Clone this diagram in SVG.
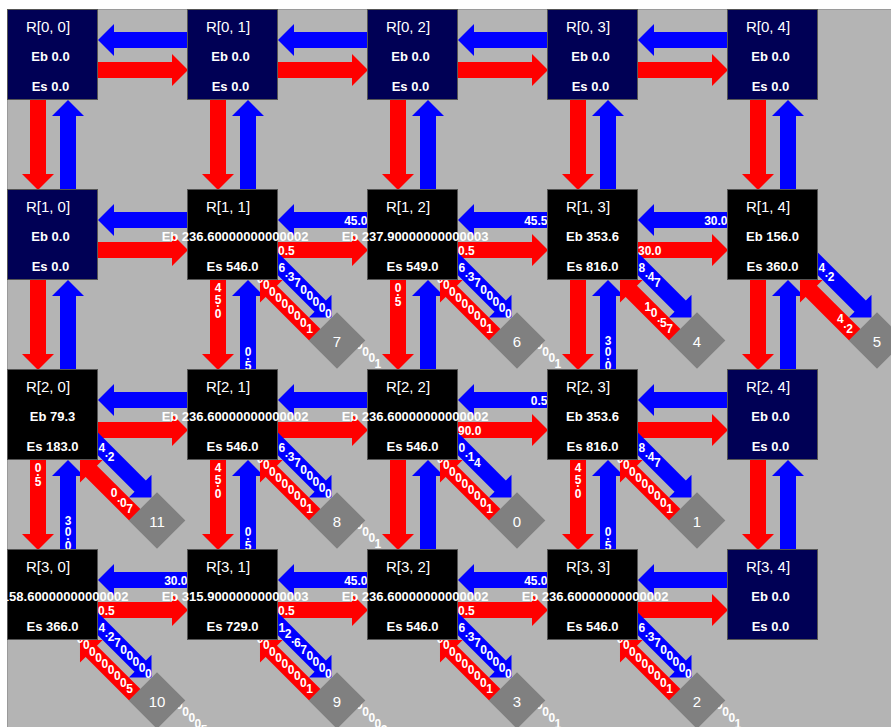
<svg xmlns="http://www.w3.org/2000/svg" width="891" height="727" viewBox="0 0 891 727">
<style>
.bgw{fill:#fff}
.bg{fill:#b4b4b4}
.nv{fill:#000055;stroke:#555;stroke-width:1}
.bk{fill:#000;stroke:#555;stroke-width:1}
.r{fill:#f00}
.b{fill:#00f}
.dm{fill:#808080}
text{font-family:"Liberation Sans",Arial,sans-serif;fill:#fff}
.t{font-size:15px;text-anchor:middle}
.e{font-size:13px;font-weight:bold;text-anchor:middle}
.l{font-size:12px;font-weight:bold}
.le{font-size:12px;font-weight:bold;text-anchor:end}
.lm{font-size:12px;font-weight:bold;text-anchor:middle}
.dn{font-size:15px;text-anchor:middle}
</style>
<defs>
<path id="h" d="M0,-8H74V-16L90,0L74,16V8H0Z"/>
<path id="db" d="M0,-8H73.8V-16L89.8,0L73.8,16V8H0Z"/>
<path id="dr" d="M0,-8H61.8V-16L77.8,0L61.8,16V8H0Z"/>
<polygon id="dm" points="0,-28.3 28.3,0 0,28.3 -28.3,0"/>
</defs>
<rect class="bgw" x="0" y="0" width="891" height="727"/>
<rect class="bg" x="7" y="9" width="884" height="718"/>
<path d="M7.5,727V9.5H891" fill="none" stroke="#9a9a9a"/>
<g id="connectors">
<g id="horizontal">
<use href="#h" class="r" transform="translate(98,70)"/><use href="#h" class="r" transform="translate(278,70)"/><use href="#h" class="r" transform="translate(458,70)"/><use href="#h" class="r" transform="translate(638,70)"/>
<use href="#h" class="b" transform="translate(188,40) rotate(180)"/><use href="#h" class="b" transform="translate(368,40) rotate(180)"/><use href="#h" class="b" transform="translate(548,40) rotate(180)"/><use href="#h" class="b" transform="translate(728,40) rotate(180)"/>
<use href="#h" class="r" transform="translate(98,250)"/><use href="#h" class="r" transform="translate(278,250)"/><use href="#h" class="r" transform="translate(458,250)"/><use href="#h" class="r" transform="translate(638,250)"/>
<use href="#h" class="b" transform="translate(188,220) rotate(180)"/><use href="#h" class="b" transform="translate(368,220) rotate(180)"/><use href="#h" class="b" transform="translate(548,220) rotate(180)"/><use href="#h" class="b" transform="translate(728,220) rotate(180)"/>
<use href="#h" class="r" transform="translate(98,430)"/><use href="#h" class="r" transform="translate(278,430)"/><use href="#h" class="r" transform="translate(458,430)"/><use href="#h" class="r" transform="translate(638,430)"/>
<use href="#h" class="b" transform="translate(188,400) rotate(180)"/><use href="#h" class="b" transform="translate(368,400) rotate(180)"/><use href="#h" class="b" transform="translate(548,400) rotate(180)"/><use href="#h" class="b" transform="translate(728,400) rotate(180)"/>
<use href="#h" class="r" transform="translate(98,610)"/><use href="#h" class="r" transform="translate(278,610)"/><use href="#h" class="r" transform="translate(458,610)"/><use href="#h" class="r" transform="translate(638,610)"/>
<use href="#h" class="b" transform="translate(188,580) rotate(180)"/><use href="#h" class="b" transform="translate(368,580) rotate(180)"/><use href="#h" class="b" transform="translate(548,580) rotate(180)"/><use href="#h" class="b" transform="translate(728,580) rotate(180)"/>
</g>
<g id="vertical">
<use href="#h" class="r" transform="translate(38,100) rotate(90)"/><use href="#h" class="r" transform="translate(218,100) rotate(90)"/><use href="#h" class="r" transform="translate(398,100) rotate(90)"/><use href="#h" class="r" transform="translate(578,100) rotate(90)"/><use href="#h" class="r" transform="translate(758,100) rotate(90)"/>
<use href="#h" class="b" transform="translate(68,190) rotate(-90)"/><use href="#h" class="b" transform="translate(248,190) rotate(-90)"/><use href="#h" class="b" transform="translate(428,190) rotate(-90)"/><use href="#h" class="b" transform="translate(608,190) rotate(-90)"/><use href="#h" class="b" transform="translate(788,190) rotate(-90)"/>
<use href="#h" class="r" transform="translate(38,280) rotate(90)"/><use href="#h" class="r" transform="translate(218,280) rotate(90)"/><use href="#h" class="r" transform="translate(398,280) rotate(90)"/><use href="#h" class="r" transform="translate(578,280) rotate(90)"/><use href="#h" class="r" transform="translate(758,280) rotate(90)"/>
<use href="#h" class="b" transform="translate(68,370) rotate(-90)"/><use href="#h" class="b" transform="translate(248,370) rotate(-90)"/><use href="#h" class="b" transform="translate(428,370) rotate(-90)"/><use href="#h" class="b" transform="translate(608,370) rotate(-90)"/><use href="#h" class="b" transform="translate(788,370) rotate(-90)"/>
<use href="#h" class="r" transform="translate(38,460) rotate(90)"/><use href="#h" class="r" transform="translate(218,460) rotate(90)"/><use href="#h" class="r" transform="translate(398,460) rotate(90)"/><use href="#h" class="r" transform="translate(578,460) rotate(90)"/><use href="#h" class="r" transform="translate(758,460) rotate(90)"/>
<use href="#h" class="b" transform="translate(68,550) rotate(-90)"/><use href="#h" class="b" transform="translate(248,550) rotate(-90)"/><use href="#h" class="b" transform="translate(428,550) rotate(-90)"/><use href="#h" class="b" transform="translate(608,550) rotate(-90)"/><use href="#h" class="b" transform="translate(788,550) rotate(-90)"/>
</g>
<g id="diagonal">
<use href="#db" class="b" transform="translate(268,254) rotate(45)"/><use href="#dr" class="r" transform="translate(315,335) rotate(225)"/>
<use href="#db" class="b" transform="translate(448,254) rotate(45)"/><use href="#dr" class="r" transform="translate(495,335) rotate(225)"/>
<use href="#db" class="b" transform="translate(628,254) rotate(45)"/><use href="#dr" class="r" transform="translate(675,335) rotate(225)"/>
<use href="#db" class="b" transform="translate(808,254) rotate(45)"/><use href="#dr" class="r" transform="translate(855,335) rotate(225)"/>
<use href="#db" class="b" transform="translate(88,434) rotate(45)"/><use href="#dr" class="r" transform="translate(135,515) rotate(225)"/>
<use href="#db" class="b" transform="translate(268,434) rotate(45)"/><use href="#dr" class="r" transform="translate(315,515) rotate(225)"/>
<use href="#db" class="b" transform="translate(448,434) rotate(45)"/><use href="#dr" class="r" transform="translate(495,515) rotate(225)"/>
<use href="#db" class="b" transform="translate(628,434) rotate(45)"/><use href="#dr" class="r" transform="translate(675,515) rotate(225)"/>
<use href="#db" class="b" transform="translate(88,614) rotate(45)"/><use href="#dr" class="r" transform="translate(135,695) rotate(225)"/>
<use href="#db" class="b" transform="translate(268,614) rotate(45)"/><use href="#dr" class="r" transform="translate(315,695) rotate(225)"/>
<use href="#db" class="b" transform="translate(448,614) rotate(45)"/><use href="#dr" class="r" transform="translate(495,695) rotate(225)"/>
<use href="#db" class="b" transform="translate(628,614) rotate(45)"/><use href="#dr" class="r" transform="translate(675,695) rotate(225)"/>
</g>
<g id="labels">
<text class="le" x="367.5" y="225">45.0</text>
<text class="le" x="547.5" y="225">45.5</text>
<text class="le" x="727.5" y="225">30.0</text>
<text class="le" x="547.5" y="405">0.5</text>
<text class="le" x="187.5" y="585">30.0</text>
<text class="le" x="367.5" y="585">45.0</text>
<text class="le" x="547.5" y="585">45.0</text>
<text class="l" x="278" y="255">0.5</text>
<text class="l" x="458" y="255">0.5</text>
<text class="l" x="638" y="255">30.0</text>
<text class="l" x="458" y="435">90.0</text>
<text class="l" x="98" y="615">0.5</text>
<text class="l" x="278" y="615">0.5</text>
<text class="l" x="458" y="615">0.5</text>
<text class="lm" x="218 218 218 218" y="292 303.5 307 317.5">45.0</text>
<text class="lm" x="398 398 398" y="292 295.5 305.5">0.5</text>
<text class="lm" x="38 38 38" y="472 475.5 485.5">0.5</text>
<text class="lm" x="218 218 218 218" y="472 483.5 487 497.5">45.0</text>
<text class="lm" x="578 578 578 578" y="472 483.5 487 497.5">45.0</text>
<text class="lm" x="248 248 248" y="356 359.5 369.5">0.5</text>
<text class="lm" x="608 608 608 608" y="344.5 356 359.5 369.5">30.0</text>
<text class="lm" x="68 68 68 68" y="524.5 536 539.5 549.5">30.0</text>
<text class="lm" x="248 248 248" y="536 539.5 549.5">0.5</text>
<text class="lm" x="608 608 608" y="536 539.5 549.5">0.5</text>
<text class="l" transform="translate(278,280)" x="0.5 6.7 9.8 16 22.2 28.4 34.6 40.8 47 53.2 59.4 65.6 71.8 78 84.2 90.4 96.6" y="-8.1 -3.45 1.2 7.4 13.6 19.8 26 32.2 38.4 44.6 50.8 57 63.2 69.4 75.6 81.8 88">6.370000000000001</text>
<text class="l" transform="translate(458,280)" x="0.5 6.7 9.8 16 22.2 28.4 34.6 40.8 47 53.2 59.4 65.6 71.8 78 84.2 90.4 96.6" y="-8.1 -3.45 1.2 7.4 13.6 19.8 26 32.2 38.4 44.6 50.8 57 63.2 69.4 75.6 81.8 88">6.370000000000001</text>
<text class="l" transform="translate(638,280)" x="0.5 6.7 9.8 16" y="-8.1 -3.45 1.2 7.4">8.47</text>
<text class="l" transform="translate(818,280)" x="0.5 6.7 9.8" y="-8.1 -3.45 1.2">4.2</text>
<text class="l" transform="translate(98,460)" x="0.5 6.7 9.8" y="-8.1 -3.45 1.2">4.2</text>
<text class="l" transform="translate(278,460)" x="0.5 6.7 9.8 16 22.2 28.4 34.6 40.8 47 53.2 59.4 65.6 71.8 78 84.2 90.4 96.6" y="-8.1 -3.45 1.2 7.4 13.6 19.8 26 32.2 38.4 44.6 50.8 57 63.2 69.4 75.6 81.8 88">6.370000000000001</text>
<text class="l" transform="translate(458,460)" x="0.5 6.7 9.8 16" y="-8.1 -3.45 1.2 7.4">0.14</text>
<text class="l" transform="translate(638,460)" x="0.5 6.7 9.8 16" y="-8.1 -3.45 1.2 7.4">8.47</text>
<text class="l" transform="translate(98,640)" x="0.5 6.7 9.8 16 22.2 28.4 34.6 40.8 47 53.2 59.4 65.6 71.8 78 84.2 90.4 96.6 102.8" y="-8.1 -3.45 1.2 7.4 13.6 19.8 26 32.2 38.4 44.6 50.8 57 63.2 69.4 75.6 81.8 88 94.2">4.2700000000000005</text>
<text class="l" transform="translate(278,640)" x="0.5 6.7 12.9 16 22.2 28.4 34.6 40.8 47 53.2 59.4 65.6 71.8 78 84.2 90.4 96.6 102.8" y="-8.1 -1.9 2.75 7.4 13.6 19.8 26 32.2 38.4 44.6 50.8 57 63.2 69.4 75.6 81.8 88 94.2">12.670000000000002</text>
<text class="l" transform="translate(458,640)" x="0.5 6.7 9.8 16 22.2 28.4 34.6 40.8 47 53.2 59.4 65.6 71.8 78 84.2 90.4 96.6" y="-8.1 -3.45 1.2 7.4 13.6 19.8 26 32.2 38.4 44.6 50.8 57 63.2 69.4 75.6 81.8 88">6.370000000000001</text>
<text class="l" transform="translate(638,640)" x="0.5 6.7 9.8 16 22.2 28.4 34.6 40.8 47 53.2 59.4 65.6 71.8 78 84.2 90.4 96.6" y="-8.1 -3.45 1.2 7.4 13.6 19.8 26 32.2 38.4 44.6 50.8 57 63.2 69.4 75.6 81.8 88">6.370000000000001</text>
<text class="l" transform="translate(278,280)" x="-27.5 -21.3 -15.1 -8.9 -2.7 3.5 9.7 15.9 22.1 28.3" y="-3.1 3.1 9.3 15.5 21.7 27.9 34.1 40.3 46.5 52.7">0000000001</text>
<text class="l" transform="translate(458,280)" x="-27.5 -21.3 -15.1 -8.9 -2.7 3.5 9.7 15.9 22.1 28.3" y="-3.1 3.1 9.3 15.5 21.7 27.9 34.1 40.3 46.5 52.7">0000000001</text>
<text class="l" transform="translate(638,280)" x="6.6 12.8 19 22.1 28.3" y="31 37.2 41.85 46.5 52.7">10.57</text>
<text class="l" transform="translate(818,280)" x="19 25.2 28.3" y="43.4 48.05 52.7">4.2</text>
<text class="l" transform="translate(98,460)" x="12.8 19 22.1 28.3" y="37.2 41.85 46.5 52.7">0.07</text>
<text class="l" transform="translate(278,460)" x="-27.5 -21.3 -15.1 -8.9 -2.7 3.5 9.7 15.9 22.1 28.3" y="-3.1 3.1 9.3 15.5 21.7 27.9 34.1 40.3 46.5 52.7">0000000001</text>
<text class="l" transform="translate(458,460)" x="-27.5 -21.3 -15.1 -8.9 -2.7 3.5 9.7 15.9 22.1 28.3" y="-3.1 3.1 9.3 15.5 21.7 27.9 34.1 40.3 46.5 52.7">0000000001</text>
<text class="l" transform="translate(638,460)" x="-27.5 -21.3 -15.1 -8.9 -2.7 3.5 9.7 15.9 22.1 28.3" y="-3.1 3.1 9.3 15.5 21.7 27.9 34.1 40.3 46.5 52.7">0000000001</text>
<text class="l" transform="translate(98,640)" x="-27.5 -21.3 -15.1 -8.9 -2.7 3.5 9.7 15.9 22.1 28.3" y="-3.1 3.1 9.3 15.5 21.7 27.9 34.1 40.3 46.5 52.7">0000000005</text>
<text class="l" transform="translate(278,640)" x="-27.5 -21.3 -15.1 -8.9 -2.7 3.5 9.7 15.9 22.1 28.3" y="-3.1 3.1 9.3 15.5 21.7 27.9 34.1 40.3 46.5 52.7">0000000001</text>
<text class="l" transform="translate(458,640)" x="-27.5 -21.3 -15.1 -8.9 -2.7 3.5 9.7 15.9 22.1 28.3" y="-3.1 3.1 9.3 15.5 21.7 27.9 34.1 40.3 46.5 52.7">0000000001</text>
<text class="l" transform="translate(638,640)" x="-27.5 -21.3 -15.1 -8.9 -2.7 3.5 9.7 15.9 22.1 28.3" y="-3.1 3.1 9.3 15.5 21.7 27.9 34.1 40.3 46.5 52.7">0000000001</text>
</g>
</g>
<g id="nodes">
<g id="R-0-0"><rect class="nv" x="7.5" y="9.5" width="90" height="90"/><text class="t" x="48" y="31.5">R[0, 0]</text><text class="e" x="50.5" y="61">Eb 0.0</text><text class="e" x="50.5" y="90.5">Es 0.0</text></g>
<g id="R-0-1"><rect class="nv" x="187.5" y="9.5" width="90" height="90"/><text class="t" x="228" y="31.5">R[0, 1]</text><text class="e" x="230.5" y="61">Eb 0.0</text><text class="e" x="230.5" y="90.5">Es 0.0</text></g>
<g id="R-0-2"><rect class="nv" x="367.5" y="9.5" width="90" height="90"/><text class="t" x="408" y="31.5">R[0, 2]</text><text class="e" x="410.5" y="61">Eb 0.0</text><text class="e" x="410.5" y="90.5">Es 0.0</text></g>
<g id="R-0-3"><rect class="nv" x="547.5" y="9.5" width="90" height="90"/><text class="t" x="588" y="31.5">R[0, 3]</text><text class="e" x="590.5" y="61">Eb 0.0</text><text class="e" x="590.5" y="90.5">Es 0.0</text></g>
<g id="R-0-4"><rect class="nv" x="727.5" y="9.5" width="90" height="90"/><text class="t" x="768" y="31.5">R[0, 4]</text><text class="e" x="770.5" y="61">Eb 0.0</text><text class="e" x="770.5" y="90.5">Es 0.0</text></g>
<g id="R-1-0"><rect class="nv" x="7.5" y="189.5" width="90" height="90"/><text class="t" x="48" y="211.5">R[1, 0]</text><text class="e" x="50.5" y="241">Eb 0.0</text><text class="e" x="50.5" y="270.5">Es 0.0</text></g>
<g id="R-1-1"><rect class="bk" x="187.5" y="189.5" width="90" height="90"/><text class="t" x="228" y="211.5">R[1, 1]</text><text class="e" x="235" y="241">Eb 236.60000000000002</text><text class="e" x="232.5" y="270.5">Es 546.0</text></g>
<g id="R-1-2"><rect class="bk" x="367.5" y="189.5" width="90" height="90"/><text class="t" x="408" y="211.5">R[1, 2]</text><text class="e" x="415" y="241">Eb 237.90000000000003</text><text class="e" x="412.5" y="270.5">Es 549.0</text></g>
<g id="R-1-3"><rect class="bk" x="547.5" y="189.5" width="90" height="90"/><text class="t" x="588" y="211.5">R[1, 3]</text><text class="e" x="592.5" y="241">Eb 353.6</text><text class="e" x="592.5" y="270.5">Es 816.0</text></g>
<g id="R-1-4"><rect class="bk" x="727.5" y="189.5" width="90" height="90"/><text class="t" x="768" y="211.5">R[1, 4]</text><text class="e" x="772.5" y="241">Eb 156.0</text><text class="e" x="772.5" y="270.5">Es 360.0</text></g>
<g id="R-2-0"><rect class="bk" x="7.5" y="369.5" width="90" height="90"/><text class="t" x="48" y="391.5">R[2, 0]</text><text class="e" x="52.5" y="421">Eb 79.3</text><text class="e" x="52.5" y="450.5">Es 183.0</text></g>
<g id="R-2-1"><rect class="bk" x="187.5" y="369.5" width="90" height="90"/><text class="t" x="228" y="391.5">R[2, 1]</text><text class="e" x="235" y="421">Eb 236.60000000000002</text><text class="e" x="232.5" y="450.5">Es 546.0</text></g>
<g id="R-2-2"><rect class="bk" x="367.5" y="369.5" width="90" height="90"/><text class="t" x="408" y="391.5">R[2, 2]</text><text class="e" x="415" y="421">Eb 236.60000000000002</text><text class="e" x="412.5" y="450.5">Es 546.0</text></g>
<g id="R-2-3"><rect class="bk" x="547.5" y="369.5" width="90" height="90"/><text class="t" x="588" y="391.5">R[2, 3]</text><text class="e" x="592.5" y="421">Eb 353.6</text><text class="e" x="592.5" y="450.5">Es 816.0</text></g>
<g id="R-2-4"><rect class="nv" x="727.5" y="369.5" width="90" height="90"/><text class="t" x="768" y="391.5">R[2, 4]</text><text class="e" x="770.5" y="421">Eb 0.0</text><text class="e" x="770.5" y="450.5">Es 0.0</text></g>
<g id="R-3-0"><rect class="bk" x="7.5" y="549.5" width="90" height="90"/><text class="t" x="48" y="571.5">R[3, 0]</text><text class="e" x="55" y="601">Eb 158.60000000000002</text><text class="e" x="52.5" y="630.5">Es 366.0</text></g>
<g id="R-3-1"><rect class="bk" x="187.5" y="549.5" width="90" height="90"/><text class="t" x="228" y="571.5">R[3, 1]</text><text class="e" x="235" y="601">Eb 315.90000000000003</text><text class="e" x="232.5" y="630.5">Es 729.0</text></g>
<g id="R-3-2"><rect class="bk" x="367.5" y="549.5" width="90" height="90"/><text class="t" x="408" y="571.5">R[3, 2]</text><text class="e" x="415" y="601">Eb 236.60000000000002</text><text class="e" x="412.5" y="630.5">Es 546.0</text></g>
<g id="R-3-3"><rect class="bk" x="547.5" y="549.5" width="90" height="90"/><text class="t" x="588" y="571.5">R[3, 3]</text><text class="e" x="595" y="601">Eb 236.60000000000002</text><text class="e" x="592.5" y="630.5">Es 546.0</text></g>
<g id="R-3-4"><rect class="nv" x="727.5" y="549.5" width="90" height="90"/><text class="t" x="768" y="571.5">R[3, 4]</text><text class="e" x="770.5" y="601">Eb 0.0</text><text class="e" x="770.5" y="630.5">Es 0.0</text></g>
</g>
<g id="sinks">
<g id="S7" transform="translate(337,340.5)"><use href="#dm" class="dm"/><text class="dn" y="6">7</text></g>
<g id="S6" transform="translate(517,340.5)"><use href="#dm" class="dm"/><text class="dn" y="6">6</text></g>
<g id="S4" transform="translate(697,340.5)"><use href="#dm" class="dm"/><text class="dn" y="6">4</text></g>
<g id="S5" transform="translate(877,340.5)"><use href="#dm" class="dm"/><text class="dn" y="6">5</text></g>
<g id="S11" transform="translate(157,520.5)"><use href="#dm" class="dm"/><text class="dn" y="6">11</text></g>
<g id="S8" transform="translate(337,520.5)"><use href="#dm" class="dm"/><text class="dn" y="6">8</text></g>
<g id="S0" transform="translate(517,520.5)"><use href="#dm" class="dm"/><text class="dn" y="6">0</text></g>
<g id="S1" transform="translate(697,520.5)"><use href="#dm" class="dm"/><text class="dn" y="6">1</text></g>
<g id="S10" transform="translate(157,700.5)"><use href="#dm" class="dm"/><text class="dn" y="6">10</text></g>
<g id="S9" transform="translate(337,700.5)"><use href="#dm" class="dm"/><text class="dn" y="6">9</text></g>
<g id="S3" transform="translate(517,700.5)"><use href="#dm" class="dm"/><text class="dn" y="6">3</text></g>
<g id="S2" transform="translate(697,700.5)"><use href="#dm" class="dm"/><text class="dn" y="6">2</text></g>
</g>
</svg>
